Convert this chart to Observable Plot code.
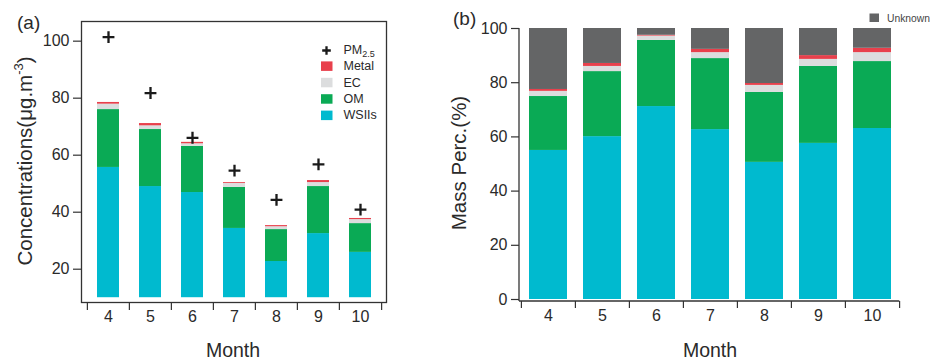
<!DOCTYPE html>
<html>
<head>
<meta charset="utf-8">
<script src="https://cdn.jsdelivr.net/npm/d3@7"></script>
<script src="https://cdn.jsdelivr.net/npm/@observablehq/plot@0.6"></script>
<style>
  body { margin: 0; background: #fff; }
  #wrap { position: relative; width: 931px; height: 360px; overflow: hidden; background: #fff;
          font-family: "Liberation Sans", Arial, Helvetica, sans-serif; }
  #wrap svg { position: absolute; top: 0; overflow: visible; }
</style>
</head>
<body>
<div id="wrap"></div>
<script>
// Months of the campaign
const months = ["4", "5", "6", "7", "8", "9", "10"];

// (a) mass concentrations, µg/m³
const pm25 = [101.4, 81.8, 66.1, 54.6, 44.3, 56.8, 40.9];
const wsiiConc = [55.7, 49.0, 46.9, 34.3, 22.7, 32.5, 25.9];
const omConc = [20.3, 20.0, 16.2, 14.4, 11.2, 16.5, 10.1];
const ecConc = [1.9, 1.3, 0.9, 1.4, 1.0, 1.4, 1.4];
const metalConc = [0.6, 0.8, 0.5, 0.3, 0.4, 0.7, 0.4];
const concBase = 10; // bars of panel (a) rise from this level

// (b) mass fractions, %
const wsiiPct = [55.0, 60.1, 71.2, 62.7, 50.6, 57.6, 63.1];
const omPct = [19.9, 24.0, 24.4, 26.2, 25.8, 28.4, 24.7];
const ecPct = [1.9, 1.9, 1.6, 2.2, 2.6, 2.6, 3.3];
const metalPct = [0.7, 1.1, 0.3, 1.2, 0.7, 1.4, 1.6];
const unknownPct = [22.5, 12.9, 2.5, 7.7, 20.3, 10.0, 7.3];

const concTicks = [20, 40, 60, 80, 100];
const pctTicks = [0, 20, 40, 60, 80, 100];

const partKeys = ["WSIIs", "OM", "EC", "Metal", "Unknown"];
const partColors = ["#00BACF", "#0AAA55", "#DCDDDE", "#E8404C", "#646566"];
const colorOf = Object.fromEntries(partKeys.map((k, i) => [k, partColors[i]]));

const FONT = '"Liberation Sans", Arial, Helvetica, sans-serif';
const INK = "#2a2a2a";

// Long tables built from the arrays above
const concSeries = [["WSIIs", wsiiConc], ["OM", omConc], ["EC", ecConc], ["Metal", metalConc]];
const concRows = [];
months.forEach((m, i) => {
  let top = concBase;
  concSeries.forEach(([key, vals], j) => {
    const y1 = j === 0 ? concBase : top;
    const y2 = j === 0 ? vals[i] : top + vals[i];
    concRows.push({month: m, key, y1, y2});
    top = y2;
  });
});
const pmRows = months.map((m, i) => ({month: m, pm: pm25[i]}));

const pctSeries = [["WSIIs", wsiiPct], ["OM", omPct], ["EC", ecPct], ["Metal", metalPct], ["Unknown", unknownPct]];
const pctRows = [];
months.forEach((m, i) => pctSeries.forEach(([key, vals]) => pctRows.push({month: m, key, value: vals[i]})));

const wrap = document.getElementById("wrap");

// ---------- Panel (a) ----------
const rangeA = [86, 381.7];
const stepA = (rangeA[1] - rangeA[0]) / months.length;
const padA = 0.48;

const chartA = Plot.plot({
  width: 420, height: 360,
  marginLeft: 81, marginRight: 34, marginTop: 21, marginBottom: 58,
  style: {fontFamily: FONT, fontSize: "16px", color: INK, background: "transparent", overflow: "visible"},
  x: {domain: months, range: rangeA, paddingInner: padA, paddingOuter: padA / 2, align: 0.5, axis: null},
  y: {domain: [8.32, 106.9], axis: null},
  color: {domain: partKeys, range: partColors},
  marks: [
    Plot.barY(concRows, {x: "month", y1: "y1", y2: "y2", fill: "key"}),
    Plot.dot(pmRows, {x: "month", y: "pm", symbol: "plus", r: 3.9, stroke: "#1a1a1a", strokeWidth: 2.3}),
    Plot.frame({stroke: "#333", strokeWidth: 1.3}),
    Plot.axisY(concTicks, {tickSize: 8, tickPadding: 4, label: null, stroke: "#333", strokeWidth: 1.2}),
    Plot.axisX({tickSize: 0, tickPadding: 8, label: null}),
    Plot.axisX({tickSize: 8, dx: -stepA / 2, tickFormat: () => "", label: null, stroke: "#333", strokeWidth: 1.2}),
    Plot.axisX([months[months.length - 1]], {tickSize: 8, dx: stepA / 2, tickFormat: () => "", label: null, stroke: "#333", strokeWidth: 1.2})
  ]
});
chartA.style.left = "0px";
wrap.appendChild(chartA);

const svgA = d3.select(chartA);
svgA.append("text").attr("x", 17).attr("y", 29).attr("text-anchor", "start")
  .attr("font-family", FONT).attr("font-size", 19).attr("fill", INK).text("(a)");

const yLabA = svgA.append("text")
  .attr("transform", "translate(32,161) rotate(-90)")
  .attr("text-anchor", "middle")
  .attr("font-family", FONT).attr("font-size", 20.5).attr("fill", INK);
yLabA.append("tspan").text("Concentrations(μg.m");
yLabA.append("tspan").attr("font-size", 13).attr("dy", -9).text("-3");
yLabA.append("tspan").attr("dy", 9).text(")");

svgA.append("text").attr("x", 233).attr("y", 357)
  .attr("text-anchor", "middle").attr("font-family", FONT).attr("font-size", 19.5)
  .attr("fill", INK).text("Month");

// legend of panel (a)
const legA = svgA.append("g").attr("font-family", FONT).attr("font-size", 12.5)
  .attr("fill", INK).attr("text-anchor", "start");
const legItems = [
  {label: "PM", sub: "2.5", kind: "plus"},
  {label: "Metal", color: colorOf.Metal},
  {label: "EC", color: colorOf.EC},
  {label: "OM", color: colorOf.OM},
  {label: "WSIIs", color: colorOf.WSIIs}
];
legItems.forEach((d, i) => {
  const cy = 49.5 + i * 16.4;
  if (d.kind === "plus") {
    legA.append("path").attr("d", `M${326.5 - 4.3},${cy + 1}H${326.5 + 4.3}M326.5,${cy + 1 - 4.3}V${cy + 1 + 4.3}`)
      .attr("stroke", "#1a1a1a").attr("stroke-width", 2.3).attr("fill", "none");
  } else {
    legA.append("rect").attr("x", 321).attr("y", cy - 4.5).attr("width", 11.5).attr("height", 9.5).attr("fill", d.color);
  }
  const t = legA.append("text").attr("x", 343.5).attr("y", cy).attr("dy", "0.35em");
  t.append("tspan").text(d.label);
  if (d.sub) t.append("tspan").attr("font-size", 9).attr("dy", 3.5).text(d.sub);
});

// ---------- Panel (b) ----------
const leftB = 440;
const rangeB = [80, 459.3];
const stepB = (rangeB[1] - rangeB[0]) / months.length;
const padB = 0.293;

const chartB = Plot.plot({
  width: 491, height: 360,
  marginLeft: 79, marginRight: 31.7, marginTop: 28, marginBottom: 61,
  style: {fontFamily: FONT, fontSize: "16px", color: INK, background: "transparent", overflow: "visible"},
  x: {domain: months, range: rangeB, paddingInner: padB, paddingOuter: padB / 2, align: 0.5, axis: null},
  y: {domain: [0, 100], axis: null},
  color: {domain: partKeys, range: partColors},
  marks: [
    Plot.barY(pctRows, {x: "month", y: "value", fill: "key"}),
    Plot.axisY(pctTicks, {tickSize: 8, tickPadding: 4, label: null, stroke: "#333", strokeWidth: 1.2}),
    Plot.axisX({tickSize: 0, tickPadding: 8, dy: 2, label: null}),
    Plot.axisX({tickSize: 7, dx: -stepB / 2, dy: 2, tickFormat: () => "", label: null, stroke: "#333", strokeWidth: 1.2}),
    Plot.axisX([months[months.length - 1]], {tickSize: 7, dx: stepB / 2, dy: 2, tickFormat: () => "", label: null, stroke: "#333", strokeWidth: 1.2})
  ]
});
chartB.style.left = leftB + "px";
wrap.appendChild(chartB);

const svgB = d3.select(chartB);
const yB = chartB.scale("y");
// left and bottom axis lines
svgB.append("line").attr("x1", 79).attr("x2", 79).attr("y1", yB.apply(100)).attr("y2", yB.apply(0) + 2)
  .attr("stroke", "#333").attr("stroke-width", 1.3);
svgB.append("line").attr("x1", 79).attr("x2", rangeB[1]).attr("y1", yB.apply(0) + 2).attr("y2", yB.apply(0) + 2)
  .attr("stroke", "#333").attr("stroke-width", 1.3);

svgB.append("text").attr("x", 13).attr("y", 25).attr("text-anchor", "start")
  .attr("font-family", FONT).attr("font-size", 19).attr("fill", INK).text("(b)");

svgB.append("text")
  .attr("transform", "translate(26,163) rotate(-90)")
  .attr("text-anchor", "middle")
  .attr("font-family", FONT).attr("font-size", 20.5).attr("fill", INK)
  .text("Mass Perc.(%)");

svgB.append("text").attr("x", 270).attr("y", 357)
  .attr("text-anchor", "middle").attr("font-family", FONT).attr("font-size", 19.5)
  .attr("fill", INK).text("Month");

// legend of panel (b)
svgB.append("rect").attr("x", 429.5).attr("y", 13.5).attr("width", 9.5).attr("height", 8.5).attr("fill", colorOf.Unknown);
svgB.append("text").attr("x", 447).attr("y", 18).attr("dy", "0.35em").attr("text-anchor", "start")
  .attr("font-family", FONT).attr("font-size", 10.3).attr("fill", "#444").text("Unknown");
</script>
</body>
</html>
